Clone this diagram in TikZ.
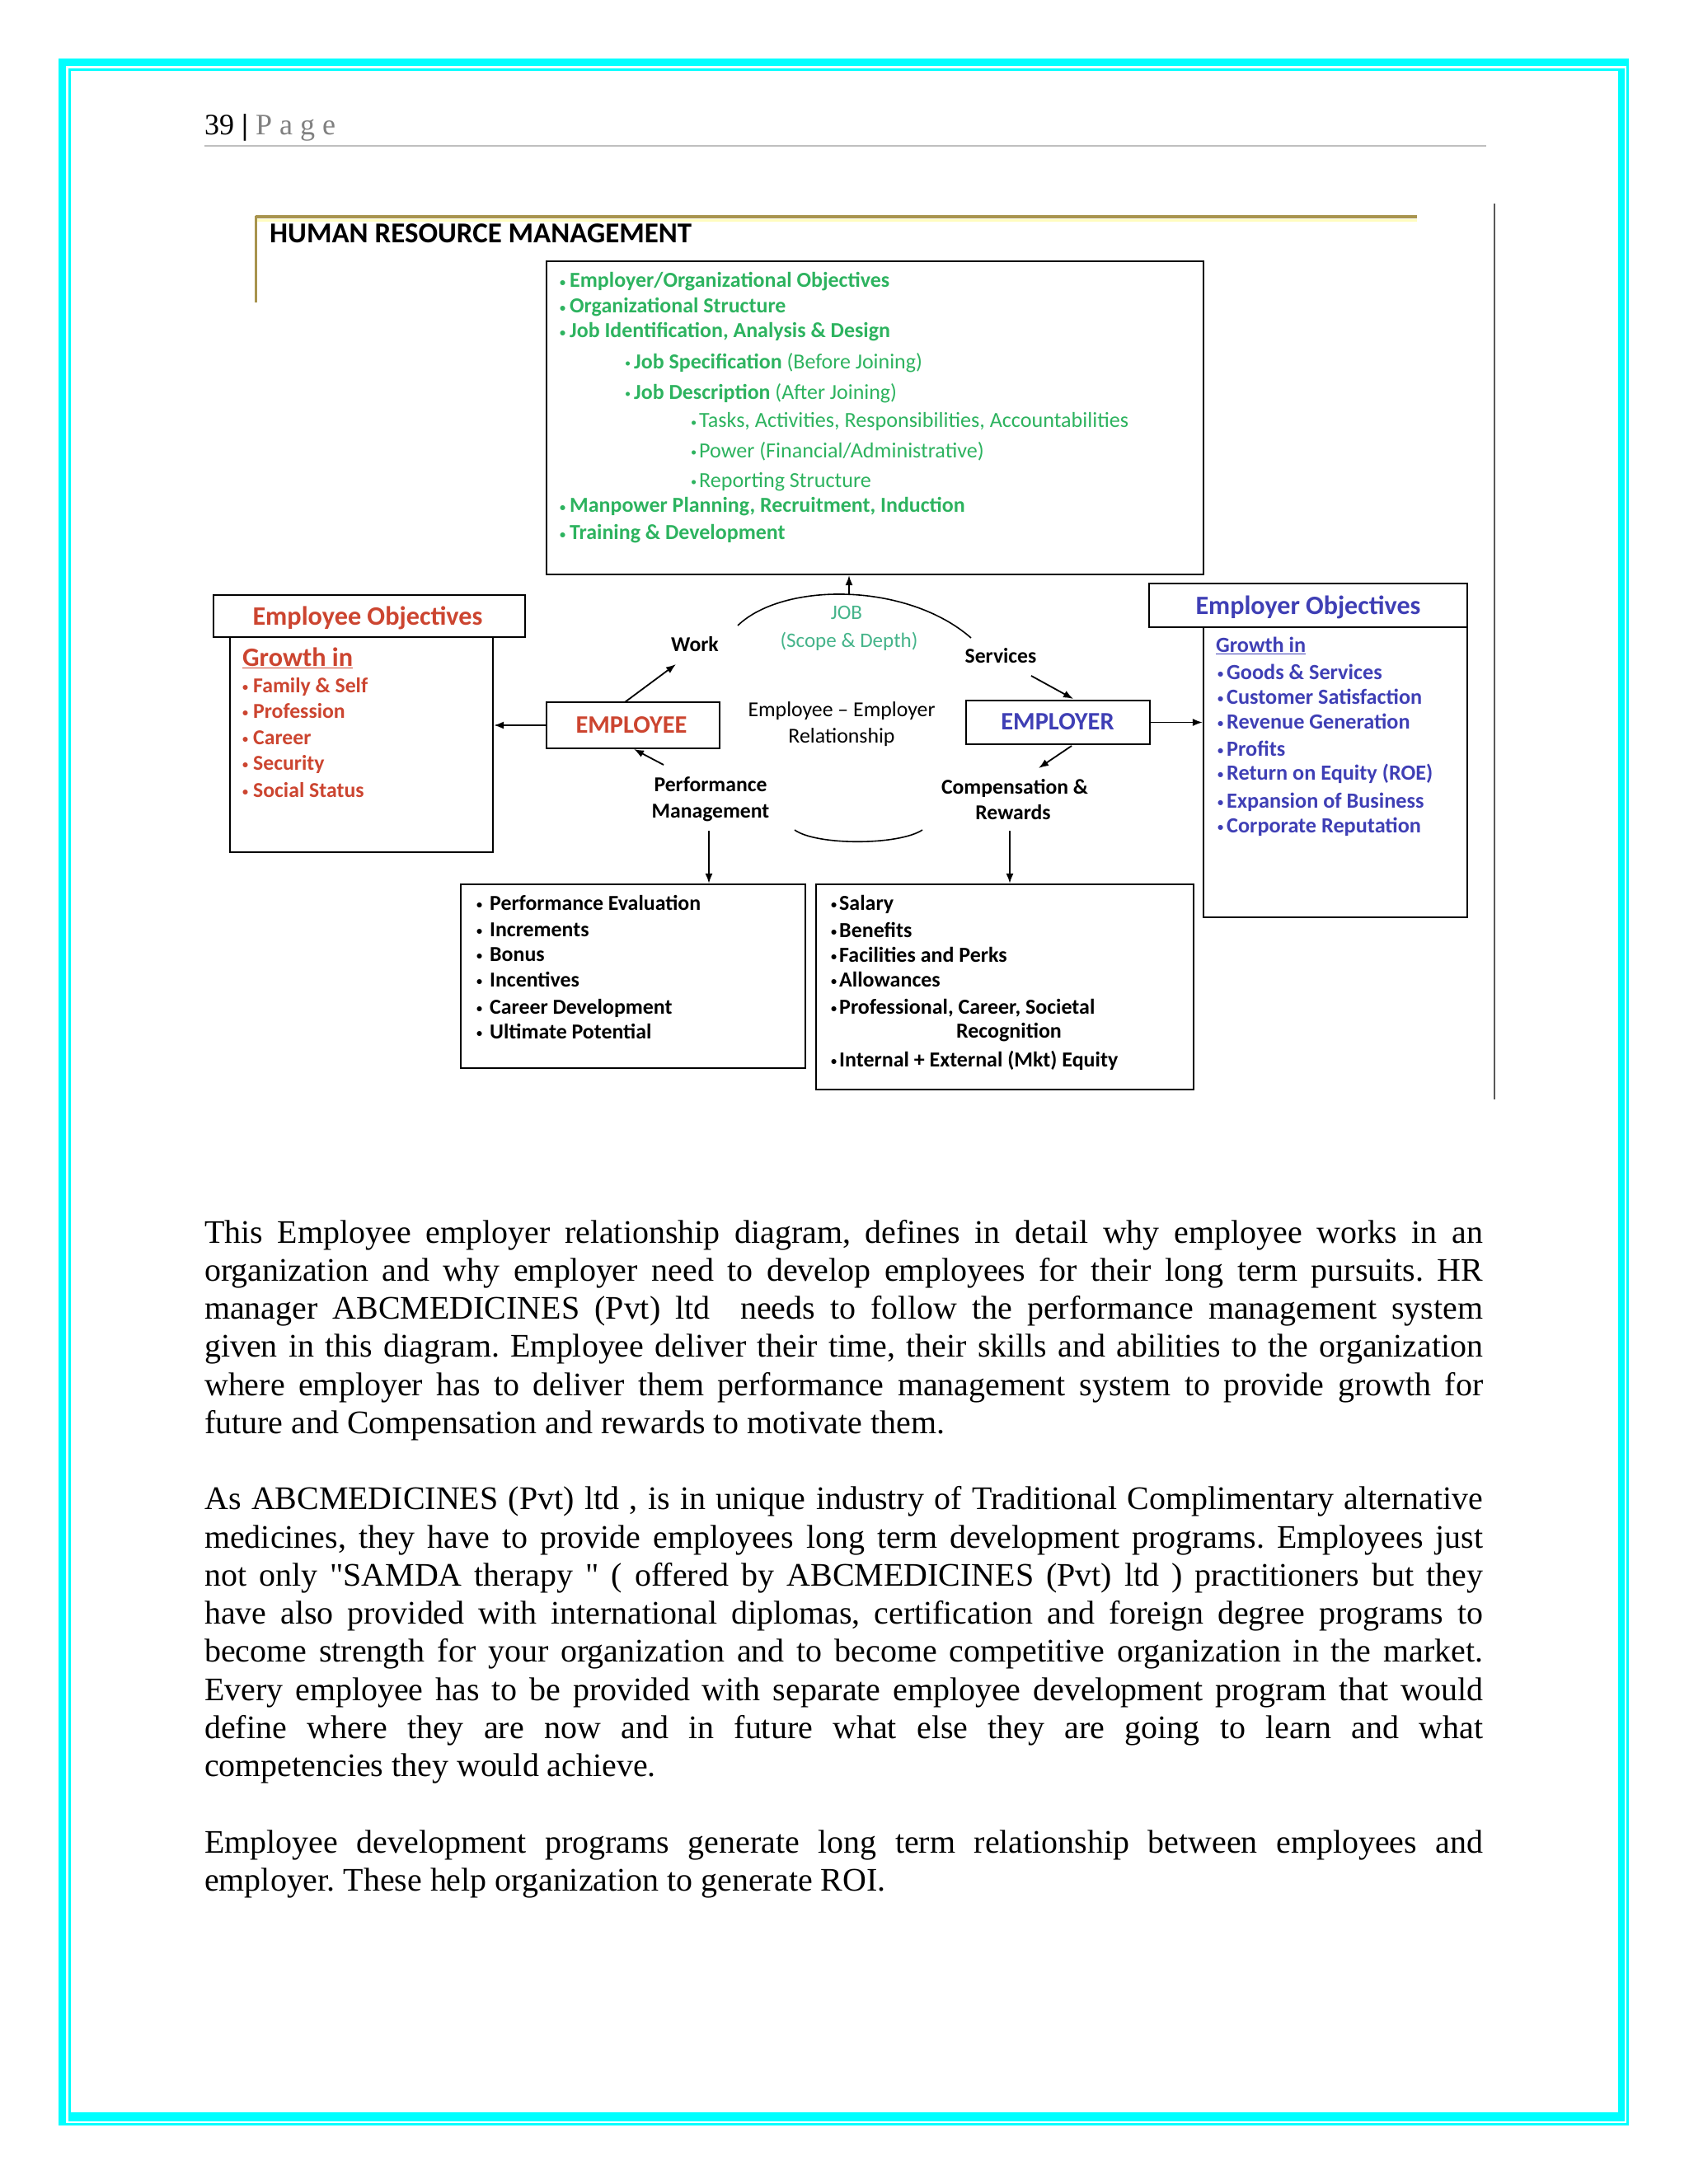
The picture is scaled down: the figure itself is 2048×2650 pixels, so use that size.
\documentclass[tikz,border=0pt]{standalone}
\usepackage{fontspec}
\setmainfont{Liberation Serif}[Ligatures=TeXOff]
\newfontfamily\calf{Carlito}
\usetikzlibrary{arrows.meta,calc}
\definecolor{gtext}{HTML}{2DB35F}
\definecolor{jobc}{HTML}{45B48A}
\definecolor{redt}{HTML}{CC4530}
\definecolor{bluet}{HTML}{3F3FB5}
\definecolor{goldl}{HTML}{A8944E}
\definecolor{cyanb}{HTML}{00FFFF}
\newlength\fitlen
\newcommand\fitfont[3]{\settowidth\fitlen{\fontsize{10pt}{12pt}\selectfont #3}\pgfmathsetmacro#1{10*#2/\fitlen}\global\let#1#1}
\newcommand\fs[1]{\fontsize{#1}{#1}\selectfont}
\newcommand\bul[1]{\makebox[#1pt][l]{\raisebox{0.07em}{\scalebox{0.55}{•}}}}
\newcommand\jl[1]{\hbox to 1551pt{#1}}
\AtBeginDocument{%
\fitfont\szHRM{512}{\calf\bfseries HUMAN RESOURCE MANAGEMENT}%
\fitfont\szG{388}{\calf\bfseries Employer/Organizational Objectives}%
\fitfont\szGs{521}{\calf Tasks, Activities, Responsibilities, Accountabilities}%
\fitfont\szEO{279}{\calf\bfseries Employee Objectives}%
\fitfont\szL{139}{\calf\bfseries Family \& Self}%
\fitfont\szR{237}{\calf\bfseries Customer Satisfaction}%
\fitfont\szRO{273}{\calf\bfseries Employer Objectives}%
\fitfont\szBox{135}{\calf\bfseries EMPLOYEE}%
\fitfont\szLab{178}{\calf\bfseries Compensation \&}%
\fitfont\szRel{227}{\calf Employee – Employer}%
\fitfont\szJob{167}{\calf (Scope \& Depth)}%
\fitfont\szB{256}{\calf\bfseries Performance Evaluation}%
\fitfont\szC{338}{\calf\bfseries Internal + External (Mkt) Equity}%
\fitfont\szT{898}{future and Compensation and rewards to motivate them.}%
}
\begin{document}
\begin{tikzpicture}[x=1pt,y=-1pt,
  box/.style={draw=black, line width=2.2pt, inner sep=0pt},
  t/.style={inner sep=0pt, anchor=west, execute at begin node=\vphantom{Ay}},
  tc/.style={inner sep=0pt, anchor=center, execute at begin node=\vphantom{Ay}},
  para/.style={inner sep=0pt, anchor=base west, font=\fs{\szT}\frenchspacing},
  arr/.style={line width=1.8pt, -{Latex[length=12pt,width=9pt]}},
  ln/.style={line width=1.6pt}]
\useasboundingbox (0,0) rectangle (2048,2650);
\fill[white] (0,0) rectangle (2048,2650);
% page border
\fill[cyanb] (71,71) rectangle (1976,80);
\fill[cyanb] (71,71) rectangle (80,2579);
\fill[cyanb] (83,83) rectangle (1966,86);
\fill[cyanb] (83,83) rectangle (86,2566);
\fill[cyanb] (1963,83) rectangle (1971,2574);
\fill[cyanb] (83,2563) rectangle (1971,2574);
\fill[cyanb] (1973,71) rectangle (1976,2579);
\fill[cyanb] (71,2576) rectangle (1976,2579);
% page header
\node[inner sep=0pt, anchor=base west, font=\fs{36}] (pagenum) at (248,163) {39 \textbf{|} \textcolor{black!50}{P a g e}};
\draw[line width=2pt, black!25] (248,177) -- (1803,177);
% diagram frame
\draw[goldl, line width=4pt] (310,263) -- (1719,263);
\draw[yellow!25, line width=3pt] (312,267) -- (1719,267);
\draw[goldl, line width=3pt] (310,262) -- (310,367);
\draw[black!65, line width=2pt] (1813,247) -- (1813,1334);
\node[t, font=\calf\bfseries\fs{\szHRM}] (hrm) at (327,286) {HUMAN RESOURCE MANAGEMENT};
% job box
\node[box, minimum width=797, minimum height=380] (jobbox) at (1061.5,507) {};
\begin{scope}[every node/.append style={text=gtext}]
\node[t, font=\calf\bfseries\fs{\szG}] (g1) at (679,342) {\bul{12}Employer/Organizational Objectives};
\node[t, font=\calf\bfseries\fs{\szG}] (g2) at (679,373) {\bul{12}Organizational Structure};
\node[t, font=\calf\bfseries\fs{\szG}] (g3) at (679,403) {\bul{12}Job Identification, Analysis \& Design};
\node[t, font=\calf\fs{\szG}] (g4) at (758,440) {\bul{11}\textbf{Job Specification} (Before Joining)};
\node[t, font=\calf\fs{\szG}] (g5) at (758,477) {\bul{11}\textbf{Job Description} (After Joining)};
\node[t, font=\calf\fs{\szGs}] (g6) at (838,512) {\bul{10}Tasks, Activities, Responsibilities, Accountabilities};
\node[t, font=\calf\fs{\szGs}] (g7) at (838,548) {\bul{10}Power (Financial/Administrative)};
\node[t, font=\calf\fs{\szGs}] (g8) at (838,585) {\bul{10}Reporting Structure};
\node[t, font=\calf\bfseries\fs{\szG}] (g9) at (679,615) {\bul{12}Manpower Planning, Recruitment, Induction};
\node[t, font=\calf\bfseries\fs{\szG}] (g10) at (679,648) {\bul{12}Training \& Development};
\end{scope}
% employee objectives
\node[box, minimum width=319, minimum height=261] (eobody) at (438.5,903.5) {};
\node[box, fill=white, minimum width=378, minimum height=51] (eohead) at (448,747.5) {};
\node[tc, font=\calf\bfseries\fs{\szEO}, text=redt] (eotitle) at (446,750) {Employee Objectives};
\begin{scope}[every node/.append style={text=redt, font=\calf\bfseries\fs{\szL}}]
\node[t, font=\calf\bfseries\fs{\szEO}] (eogr) at (294,800) {\underline{Growth in}};
\node[t] (e1) at (294,833) {\bul{13}Family \& Self};
\node[t] (e2) at (294,864) {\bul{13}Profession};
\node[t] (e3) at (294,897) {\bul{13}Career};
\node[t] (e4) at (294,927) {\bul{13}Security};
\node[t] (e5) at (294,960) {\bul{13}Social Status};
\end{scope}
% employer objectives
\node[box, minimum width=320, minimum height=352] (robody) at (1620,937) {};
\node[box, fill=white, minimum width=386, minimum height=53] (rohead) at (1587,734.5) {};
\node[tc, font=\calf\bfseries\fs{\szRO}, text=bluet] (rotitle) at (1587,737) {Employer Objectives};
\begin{scope}[every node/.append style={text=bluet, font=\calf\bfseries\fs{\szR}}]
\node[t] (rogr) at (1475,784) {\underline{Growth in}};
\node[t] (r1) at (1477,817) {\bul{11}Goods \& Services};
\node[t] (r2) at (1477,847) {\bul{11}Customer Satisfaction};
\node[t] (r3) at (1477,877) {\bul{11}Revenue Generation};
\node[t] (r4) at (1477,910) {\bul{11}Profits};
\node[t] (r5) at (1477,939) {\bul{11}Return on Equity (ROE)};
\node[t] (r6) at (1477,973) {\bul{11}Expansion of Business};
\node[t] (r7) at (1477,1003) {\bul{11}Corporate Reputation};
\end{scope}
% central boxes
\node[box, minimum width=210, minimum height=56] (emp) at (768,880) {};
\node[tc, font=\calf\bfseries\fs{\szBox}, text=redt] (empt) at (766,882) {EMPLOYEE};
\node[box, minimum width=223, minimum height=53] (empr) at (1283.5,876.5) {};
\node[tc, font=\calf\bfseries\fs{\szBox}, text=bluet] (emprt) at (1283,878) {EMPLOYER};
% labels
\node[tc, font=\calf\bfseries\fs{\szLab}] (work) at (843,783) {Work};
\node[tc, font=\calf\bfseries\fs{\szLab}] (serv) at (1214,797) {Services};
\node[tc, font=\calf\bfseries\fs{\szLab}] (pm1) at (862,954) {Performance};
\node[tc, font=\calf\bfseries\fs{\szLab}] (pm2) at (862,986) {Management};
\node[tc, font=\calf\bfseries\fs{\szLab}] (cr1) at (1231,956) {Compensation \&};
\node[tc, font=\calf\bfseries\fs{\szLab}] (cr2) at (1229,987) {Rewards};
\node[tc, font=\calf\fs{\szRel}] (rel1) at (1021,863) {Employee – Employer};
\node[tc, font=\calf\fs{\szRel}] (rel2) at (1021,895) {Relationship};
\node[tc, font=\calf\fs{\szJob}, text=jobc] (job1) at (1027,745) {JOB};
\node[tc, font=\calf\fs{\szJob}, text=jobc] (job2) at (1030,778) {(Scope \& Depth)};
% arcs
\coordinate (jL) at (895,759);
\coordinate (jT) at (1030,722);
\coordinate (jR) at (1178,774);
\draw[ln] (jL) .. controls (950,706) and (1100,706) .. (jR);
\draw[arr] (jT) -- (jT |- jobbox.south);
\coordinate (aL) at (964,1007);
\coordinate (aR) at (1119,1007);
\draw[ln] (aL) .. controls (990,1026) and (1090,1026) .. (aR);
% connectors
\draw[arr] (emp.west) -- (emp.west -| eobody.east);
\draw[arr] (empr.east) -- (empr.east -| robody.west);
\coordinate (wA) at (758,852);
\coordinate (wB) at (820,806);
\draw[arr] (wA) -- (wB);
\coordinate (pA) at (805,928);
\coordinate (pB) at (769,909);
\draw[arr] (pA) -- (pB);
\coordinate (sA) at (1251,820);
\coordinate (sB) at (1302,848);
\draw[arr] (sA) -- (sB);
\coordinate (cA) at (1300,905);
\coordinate (cB) at (1260,932);
\draw[arr] (cA) -- (cB);
% bottom boxes
\node[box, minimum width=418, minimum height=223] (perfbox) at (768,1184.5) {};
\node[box, minimum width=458, minimum height=249] (compbox) at (1219,1197.5) {};
\coordinate (pmb) at (860,1008);
\coordinate (crb) at (1225,1008);
\draw[arr] (pmb) -- (pmb |- perfbox.north);
\draw[arr] (crb) -- (crb |- compbox.north);
\begin{scope}[every node/.append style={font=\calf\bfseries\fs{\szB}}]
\node[t] (b1) at (578,1097) {\bul{16}Performance Evaluation};
\node[t] (b2) at (578,1130) {\bul{16}Increments};
\node[t] (b3) at (578,1160) {\bul{16}Bonus};
\node[t] (b4) at (578,1190) {\bul{16}Incentives};
\node[t] (b5) at (578,1223) {\bul{16}Career Development};
\node[t] (b6) at (578,1253) {\bul{16}Ultimate Potential};
\end{scope}
\begin{scope}[every node/.append style={font=\calf\bfseries\fs{\szC}}]
\node[t] (c1) at (1008,1097) {\bul{10}Salary};
\node[t] (c2) at (1008,1130) {\bul{10}Benefits};
\node[t] (c3) at (1008,1160) {\bul{10}Facilities and Perks};
\node[t] (c4) at (1008,1190) {\bul{10}Allowances};
\node[t] (c5) at (1008,1223) {\bul{10}Professional,\ Career, Societal};
\node[tc] (c6) at (1224,1253) {Recognition};
\node[t] (c7) at (1008,1287) {\bul{10}Internal\ + External (Mkt) Equity};
\end{scope}
% body text
\node[para] (l0) at (248,1508.00) {\jl{This Employee employer relationship diagram, defines in detail why employee works in an}};
\node[para] (l1) at (248,1554.25) {\jl{organization and why employer need to develop employees for their long term pursuits. HR}};
\node[para] (l2) at (248,1600.50) {\jl{manager ABCMEDICINES (Pvt) ltd\ \ needs to follow the performance management system}};
\node[para] (l3) at (248,1646.75) {\jl{given in this diagram. Employee deliver their time, their skills and abilities to the organization}};
\node[para] (l4) at (248,1693.00) {\jl{where employer has to deliver them performance management system to provide growth for}};
\node[para] (l5) at (248,1739.25) {future and Compensation and rewards to motivate them.};
\node[para] (l7) at (248,1831.75) {\jl{As ABCMEDICINES (Pvt) ltd , is in unique industry of Traditional Complimentary alternative}};
\node[para] (l8) at (248,1878.00) {\jl{medicines, they have to provide employees long term development programs. Employees just}};
\node[para] (l9) at (248,1924.25) {\jl{not only "SAMDA therapy " ( offered by ABCMEDICINES (Pvt) ltd ) practitioners but they}};
\node[para] (l10) at (248,1970.50) {\jl{have also provided with international diplomas, certification and foreign degree programs to}};
\node[para] (l11) at (248,2016.75) {\jl{become strength for your organization and to become competitive organization in the market.}};
\node[para] (l12) at (248,2063.00) {\jl{Every employee has to be provided with separate employee development program that would}};
\node[para] (l13) at (248,2109.25) {\jl{define where they are now and in future what else they are going to learn and what}};
\node[para] (l14) at (248,2155.50) {competencies they would achieve.};
\node[para] (l16) at (248,2248.00) {\jl{Employee development programs generate long term relationship between employees and}};
\node[para] (l17) at (248,2294.25) {employer. These help organization to generate ROI.};
\end{tikzpicture}
\end{document}
